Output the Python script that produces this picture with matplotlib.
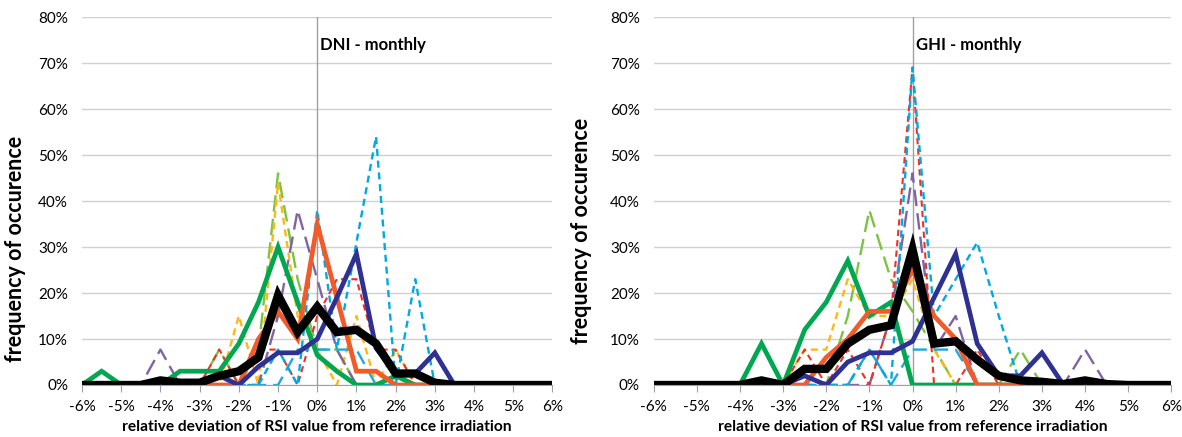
import matplotlib
matplotlib.use('Agg')
import matplotlib.pyplot as plt
from matplotlib.ticker import FuncFormatter

plt.rcParams['font.family'] = ['Lato', 'DejaVu Sans']

## deviation bins in %
dev = [-6, -5.5, -5, -4.5, -4, -3.5, -3, -2.5, -2, -1.5, -1, -0.5, 0,
       0.5, 1, 1.5, 2, 2.5, 3, 3.5, 4, 4.5, 5, 5.5, 6]

## DNI - monthly (frequency in %)
dni_green = [0, 3, 0, 0, 0, 3, 3, 3, 9, 18, 30, 18, 6.5, 3, 0, 0, 2, 0, 0, 0, 0, 0, 0, 0, 0]
dni_red = [0, 0, 0, 0, 0, 0, 0, 0, 0, 10, 16, 10, 35, 19, 3, 3, 0, 0, 0, 0, 0, 0, 0, 0, 0]
dni_navy = [0, 0, 0, 0, 0, 0, 0, 2, 0, 4, 7, 7, 10, 19, 28.5, 8, 2.5, 2.5, 7, 0, 0, 0, 0, 0, 0]
dni_black = [0, 0, 0, 0, 1, 0.5, 0.5, 2, 3, 6, 19.5, 11.5, 17, 11.5, 12, 9, 2.5, 2.5, 0.5, 0, 0, 0, 0, 0, 0]
dni_lgreen = [0, 0, 0, 0, 0, 0, 0, 7.7, 0, 7.7, 46, 23, 7.7, 7.7, 0, 0, 0, 0, 0, 0, 0, 0, 0, 0, 0]
dni_orange = [0, 0, 0, 0, 0, 0, 0, 0, 15, 0, 44, 15, 7.7, 0, 15, 0, 7.7, 0, 0, 0, 0, 0, 0, 0, 0]
dni_purple = [0, 0, 0, 0, 7.7, 0, 0, 0, 0, 0, 15, 38, 23, 7.7, 0, 0, 0, 0, 0, 0, 0, 0, 0, 0, 0]
dni_rdash = [0, 0, 0, 0, 0, 0, 0, 7.7, 0, 7.7, 7.7, 0, 15, 23, 23, 7.7, 7.7, 0, 0, 0, 0, 0, 0, 0, 0]
dni_blue = [0, 0, 0, 0, 0, 0, 0, 0, 0, 0, 7.7, 0, 38, 7.7, 31, 54, 0, 23, 0, 0, 0, 0, 0, 0, 0]
dni_blue2 = [0, 0, 0, 0, 0, 0, 0, 0, 0, 0, 0, 7.7, 7.7, 7.7, 7.7, 0, 0, 0, 0, 0, 0, 0, 0, 0, 0]

## GHI - monthly (frequency in %)
ghi_green = [0, 0, 0, 0, 0, 9, 0, 12, 18, 27, 15, 18, 0, 0, 0, 0, 0, 0, 0, 0, 0, 0, 0, 0, 0]
ghi_red = [0, 0, 0, 0, 0, 0, 0, 0, 6, 10, 16, 16, 25, 15, 10, 0, 0, 0, 0, 0, 0, 0, 0, 0, 0]
ghi_navy = [0, 0, 0, 0, 0, 0, 0, 2, 0, 5, 7, 7, 9.5, 19, 28.5, 9, 2, 2, 7, 0, 0, 0, 0, 0, 0]
ghi_black = [0, 0, 0, 0, 0, 1, 0, 3.5, 3.5, 9, 12, 13, 29.5, 9, 9.5, 5.5, 2, 1, 0.7, 0.2, 1, 0.2, 0, 0, 0]
ghi_lgreen = [0, 0, 0, 0, 0, 0, 0, 0, 0, 15, 38, 23, 16, 8, 0, 0, 0, 7.7, 0, 0, 0, 0, 0, 0, 0]
ghi_orange = [0, 0, 0, 0, 0, 0, 0, 7.7, 7.7, 23, 15, 15, 23, 7.7, 0, 0, 0, 0, 0, 0, 0, 0, 0, 0, 0]
ghi_purple = [0, 0, 0, 0, 0, 0, 0, 0, 0, 0, 0, 15, 46, 7.7, 15, 0, 0, 0, 0, 0, 7.7, 0, 0, 0, 0]
ghi_rdash = [0, 0, 0, 0, 0, 0, 0, 7.7, 0, 7.7, 0, 15, 69, 0, 0, 7.7, 0, 0, 0, 0, 0, 0, 0, 0, 0]
ghi_blue = [0, 0, 0, 0, 0, 0, 0, 0, 0, 0, 7.7, 0, 69, 15, 23, 31, 15, 0, 0, 0, 0, 0, 0, 0, 0]
ghi_blue2 = [0, 0, 0, 0, 0, 0, 0, 0, 0, 0, 7.7, 0, 7.7, 7.7, 7.7, 0, 0, 0, 0, 0, 0, 0, 0, 0, 0]

xticks = [-6, -5, -4, -3, -2, -1, 0, 1, 2, 3, 4, 5, 6]
yticks = [0, 10, 20, 30, 40, 50, 60, 70, 80]


def draw_panel(ax, series, title, ylab_pos):
    ## thin dashed lines first, thick solid lines on top
    lg, og, pu, rd, bl, bl2, gr, re, nv, bk = series
    ax.plot(dev, lg, color='#7DC242', lw=1.7, dashes=(7, 3))
    ax.plot(dev, og, color='#FDB913', lw=1.7, dashes=(3, 2))
    ax.plot(dev, pu, color='#8064A2', lw=1.7, dashes=(7, 3))
    ax.plot(dev, rd, color='#EE3124', lw=1.5, dashes=(3, 2))
    ax.plot(dev, bl2, color='#1FA7DE', lw=1.7, dashes=(6, 3))
    ax.plot(dev, bl, color='#00A9E0', lw=1.7, dashes=(3, 2))
    ax.plot(dev, gr, color='#00A650', lw=3.4, solid_joinstyle='miter')
    ax.plot(dev, re, color='#F15A29', lw=3.4, solid_joinstyle='miter')
    ax.plot(dev, nv, color='#2E3192', lw=3.4, solid_joinstyle='miter')
    ax.plot(dev, bk, color='black', lw=6, solid_joinstyle='miter')

    ax.set_xlim(-6, 6)
    ax.set_ylim(0, 80)
    ax.set_xticks(xticks)
    ax.set_yticks(yticks)
    ax.xaxis.set_major_formatter(FuncFormatter(lambda v, p: '%d%%' % v))
    ax.yaxis.set_major_formatter(FuncFormatter(lambda v, p: '%d%%' % v))
    ax.grid(axis='y', color='#D0D0D0', lw=1)
    ax.set_axisbelow(True)
    for s in ['top', 'right', 'left']:
        ax.spines[s].set_visible(False)
    ax.spines['bottom'].set_color('#A0A0A0')
    ax.axvline(0, color='#A0A0A0', lw=1, zorder=1)
    ax.tick_params(axis='x', direction='out', length=5, color='#A0A0A0',
                   labelsize=11, pad=6)
    ax.tick_params(axis='y', length=0, labelsize=11, pad=10)
    ax.set_xlabel('relative deviation of RSI value from reference irradiation',
                  fontsize=11.2, fontweight='bold', labelpad=4)
    ax.set_ylabel('frequency of occurence', fontsize=15.5, fontweight='bold')
    ax.yaxis.set_label_coords(ylab_pos[0], ylab_pos[1])
    ax.text(0.08, 74, title, fontsize=12, fontweight='bold', ha='left', va='center')


def main():
    fig = plt.figure(figsize=(11.82, 4.37), dpi=100)
    ax1 = fig.add_axes([0.0694, 0.119, 0.398, 0.842])
    ax2 = fig.add_axes([0.553, 0.119, 0.438, 0.842])

    draw_panel(ax1, [dni_lgreen, dni_orange, dni_purple, dni_rdash, dni_blue, dni_blue2,
                     dni_green, dni_red, dni_navy, dni_black], 'DNI - monthly', (-0.12, 0.37))
    draw_panel(ax2, [ghi_lgreen, ghi_orange, ghi_purple, ghi_rdash, ghi_blue, ghi_blue2,
                     ghi_green, ghi_red, ghi_navy, ghi_black], 'GHI - monthly', (-0.12, 0.42))

    fig.savefig('out.png', dpi=100)


if __name__ == '__main__':
    main()
